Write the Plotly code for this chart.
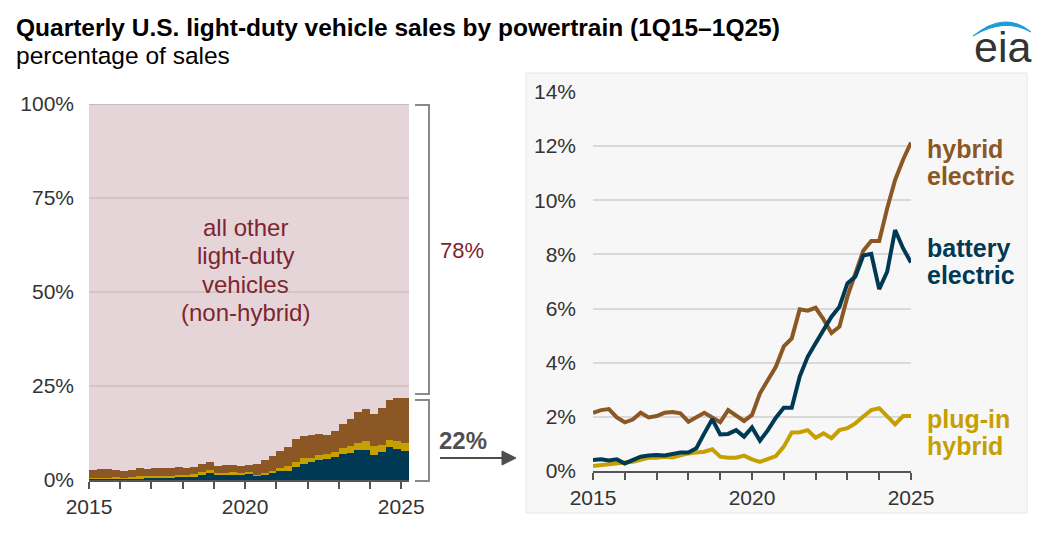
import plotly.graph_objects as go

# the page body has an 8px margin, so the figure is sized to fit the window
W, H = 1028, 525
OFF = 8

# ---- data (percent of quarterly US LDV sales), 1Q15 .. 1Q25 ----
quarters = [2015 + i / 4 for i in range(41)]
hybrid = [2.15, 2.25, 2.29, 1.98, 1.80, 1.90, 2.15, 1.98, 2.03, 2.15, 2.18, 2.13,
          1.82, 1.98, 2.15, 1.98, 1.80, 2.25, 2.03, 1.85, 2.07, 2.87, 3.36, 3.85,
          4.60, 4.90, 5.97, 5.92, 6.03, 5.60, 5.10, 5.33, 6.44, 7.30, 8.14, 8.50,
          8.50, 9.70, 10.75, 11.50, 12.13]
battery = [0.41, 0.43, 0.39, 0.43, 0.28, 0.41, 0.53, 0.57, 0.59, 0.57, 0.63, 0.68,
           0.68, 0.84, 1.39, 1.91, 1.35, 1.37, 1.51, 1.27, 1.61, 1.12, 1.51, 1.97,
           2.34, 2.34, 3.49, 4.22, 4.72, 5.21, 5.70, 6.07, 6.93, 7.18, 7.96, 8.02,
           6.72, 7.36, 8.90, 8.23, 7.70]
plugin = [0.18, 0.22, 0.23, 0.28, 0.31, 0.34, 0.41, 0.49, 0.49, 0.53, 0.50, 0.59,
          0.65, 0.68, 0.71, 0.80, 0.53, 0.49, 0.49, 0.57, 0.43, 0.34, 0.44, 0.55,
          0.90, 1.42, 1.43, 1.51, 1.23, 1.39, 1.21, 1.51, 1.58, 1.76, 2.01, 2.25,
          2.32, 2.01, 1.72, 2.03, 2.03]
other = [100 - (h + b + p) for h, b, p in zip(hybrid, battery, plugin)]

year_ticks = list(range(2015, 2026))
year_text = [str(y) if y in (2015, 2020, 2025) else "" for y in year_ticks]
left_y_ticks = [0, 25, 50, 75, 100]
right_y_ticks = [0, 2, 4, 6, 8, 10, 12, 14]

C_HEV = "#8b5724"
C_BEV = "#003953"
C_PHEV = "#c69f00"
C_OTHER = "#e5d5d8"
C_RED = "#7d2630"
FONT = "Liberation Sans, Arial, sans-serif"


def px(x):
    return (x - OFF) / W


def py(y):
    return 1 - (y - OFF) / H


fig = go.Figure()

# left panel: stacked quarterly bars
for name, vals, col in [("battery electric", battery, C_BEV),
                        ("plug-in hybrid", plugin, C_PHEV),
                        ("hybrid electric", hybrid, C_HEV),
                        ("all other", other, C_OTHER)]:
    fig.add_trace(go.Bar(x=quarters, y=vals, width=0.25, offset=0, name=name,
                         marker=dict(color=col, line=dict(width=0)),
                         xaxis="x", yaxis="y", showlegend=False, hoverinfo="skip"))

# right panel: lines
for name, vals, col in [("plug-in hybrid", plugin, C_PHEV),
                        ("hybrid electric", hybrid, C_HEV),
                        ("battery electric", battery, C_BEV)]:
    fig.add_trace(go.Scatter(x=quarters, y=vals, mode="lines", name=name,
                             line=dict(color=col, width=4),
                             xaxis="x2", yaxis="y2", showlegend=False))

shapes = []
# right panel light background box
shapes.append(dict(type="rect", xref="paper", yref="paper", layer="below",
                   x0=px(526), x1=px(1027), y0=py(513), y1=py(73),
                   fillcolor="#f7f7f7", line=dict(color="#e6e6e6", width=1)))
# left gridlines above the pink fill
for v in [25, 50, 75, 100]:
    shapes.append(dict(type="line", xref="x domain", yref="y", layer="above",
                       x0=0, x1=1, y0=v, y1=v,
                       line=dict(color="#bcb0b2" if v == 100 else "#cbbfc1", width=1.5)))
# brackets
BR = "#8a8a8a"
for top, bot in [(105, 394), (400, 481)]:
    shapes.append(dict(type="path", xref="paper", yref="paper", layer="above",
                       path=f"M {px(415)} {py(top)} L {px(429)} {py(top)} L {px(429)} {py(bot)} L {px(415)} {py(bot)}",
                       line=dict(color=BR, width=2)))
# arrow
shapes.append(dict(type="line", xref="paper", yref="paper",
                   x0=px(440), x1=px(503), y0=py(458), y1=py(458),
                   line=dict(color="#4d4d4d", width=2)))
shapes.append(dict(type="path", xref="paper", yref="paper",
                   path=f"M {px(502)} {py(451)} L {px(516)} {py(458)} L {px(502)} {py(465)} Z",
                   fillcolor="#4d4d4d", line=dict(color="#4d4d4d", width=1)))
# eia logo arc
shapes.append(dict(type="path", xref="paper", yref="paper",
                   path=(f"M {px(973)} {py(36)} Q {px(1005)} {py(10)} {px(1031)} {py(32)} "
                         f"Q {px(1004)} {py(17)} {px(973)} {py(36)} Z"),
                   fillcolor="#1b9bd7", line=dict(color="#1b9bd7", width=1)))

annotations = []


def ann(text, x, y, size, color, bold=False, xanchor="left"):
    annotations.append(dict(text=f"<b>{text}</b>" if bold else text,
                            xref="paper", yref="paper", x=px(x), y=py(y),
                            xanchor=xanchor, yanchor="middle", showarrow=False,
                            font=dict(family=FONT, size=size, color=color)))


ann("Quarterly U.S. light-duty vehicle sales by powertrain (1Q15–1Q25)", 14, 27, 24.5, "#000000", bold=True)
ann("percentage of sales", 14, 56, 24.5, "#000000")
for i, line in enumerate(["all other", "light-duty", "vehicles", "(non-hybrid)"]):
    ann(line, 245, 227 + i * 28.5, 24, C_RED, xanchor="center")
ann("78%", 438, 250, 22, C_RED)
ann("22%", 437, 440, 24, "#505050", bold=True)
for i, line in enumerate(["hybrid", "electric"]):
    ann(line, 925, 149 + i * 27, 25, C_HEV, bold=True)
for i, line in enumerate(["battery", "electric"]):
    ann(line, 925, 248 + i * 27, 25, C_BEV, bold=True)
for i, line in enumerate(["plug-in", "hybrid"]):
    ann(line, 925, 419 + i * 27, 25, C_PHEV, bold=True)
ann("eia", 1002, 47, 43, "#333333", xanchor="center")

tickfont = dict(family=FONT, size=21, color="#333333")

fig.update_layout(
    width=W, height=H, autosize=False,
    margin=dict(l=0, r=0, t=0, b=0, pad=0, autoexpand=False),
    paper_bgcolor="white", plot_bgcolor="rgba(0,0,0,0)",
    barmode="stack", bargap=0, showlegend=False,
    shapes=shapes, annotations=annotations,
    xaxis=dict(domain=[px(89), px(409)], range=[2015, 2025.25],
               tickvals=year_ticks, ticktext=year_text, ticks="outside", ticklen=7,
               tickwidth=1.5, tickcolor="#555555", showline=True, linecolor="#555555",
               linewidth=1.5, showgrid=False, zeroline=False, tickfont=tickfont,
               anchor="y", automargin=False),
    yaxis=dict(domain=[py(480), py(104)], range=[0, 100], tickvals=left_y_ticks,
               ticktext=[f"{v}%" for v in left_y_ticks], showgrid=False, zeroline=False,
               showline=False, ticks="", ticklabelstandoff=14, tickfont=tickfont,
               anchor="x", automargin=False),
    xaxis2=dict(domain=[px(593), px(911)], range=[2015, 2025],
                tickvals=year_ticks, ticktext=year_text, ticks="outside", ticklen=7,
                tickwidth=1.5, tickcolor="#555555", showline=True, linecolor="#555555",
                linewidth=1.5, showgrid=False, zeroline=False, tickfont=tickfont,
                anchor="y2", automargin=False),
    yaxis2=dict(domain=[py(471), py(92)], range=[0, 14], tickvals=right_y_ticks,
                ticktext=[f"{v}%" for v in right_y_ticks], showgrid=True,
                gridcolor="#d9d9d9", gridwidth=1.5, zeroline=False, showline=False,
                ticks="", ticklabelstandoff=16, tickfont=tickfont, anchor="x2",
                automargin=False),
)

fig.write_html("out.html")
